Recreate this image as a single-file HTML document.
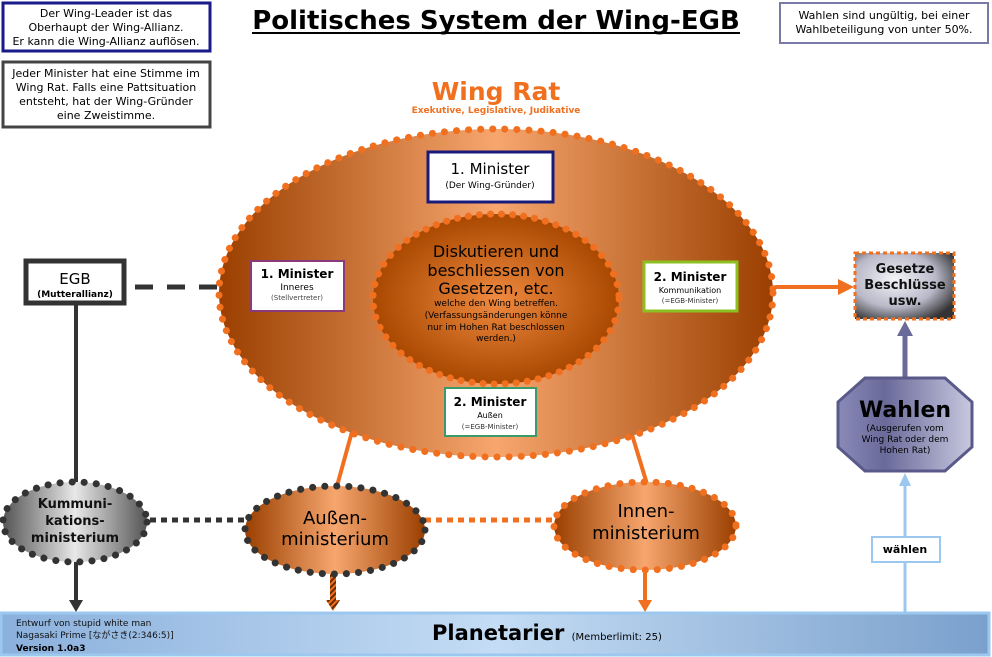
<!DOCTYPE html>
<html><head><meta charset="utf-8"><style>
html,body{margin:0;padding:0;background:#fff;}
svg{display:block;}
text{font-family:"DejaVu Sans","Liberation Sans",sans-serif;}
</style></head><body>
<svg width="992" height="657" viewBox="0 0 992 657" xmlns="http://www.w3.org/2000/svg">
<defs>
<linearGradient id="og" x1="0" x2="1" y1="0" y2="0">
<stop offset="0" stop-color="#9a3f00"/><stop offset="0.5" stop-color="#f7a66e"/><stop offset="1" stop-color="#9a3f00"/></linearGradient>
<radialGradient id="ig" cx="0.5" cy="0.5" r="0.5">
<stop offset="0" stop-color="#f08a40"/><stop offset="1" stop-color="#a94800"/></radialGradient>
<linearGradient id="gg" x1="0" x2="1"><stop offset="0" stop-color="#555"/><stop offset="0.5" stop-color="#e8e8e8"/><stop offset="1" stop-color="#555"/></linearGradient>
<linearGradient id="pg" x1="0" x2="1"><stop offset="0" stop-color="#8a8ab8"/><stop offset="0.35" stop-color="#6a6a9a"/><stop offset="1" stop-color="#c8c8e0"/></linearGradient>
<radialGradient id="sg" cx="0.4" cy="0.4" r="0.7"><stop offset="0" stop-color="#f4f4f8"/><stop offset="0.6" stop-color="#b8b8c8"/><stop offset="1" stop-color="#333"/></radialGradient>
<linearGradient id="bg" x1="0" x2="1"><stop offset="0" stop-color="#8ab0dc"/><stop offset="0.5" stop-color="#c4dcf4"/><stop offset="1" stop-color="#7aa0cc"/></linearGradient>
<pattern id="stripe" width="4" height="4" patternUnits="userSpaceOnUse" patternTransform="rotate(45)"><rect width="4" height="4" fill="#f07020"/><rect width="2" height="4" fill="#6a2a00"/></pattern>
</defs>

<rect x="3" y="3" width="207" height="48" fill="#fff" stroke="#1a1a8a" stroke-width="3"/>
<text font-size="11" text-anchor="middle" fill="#000"><tspan x="106" y="17">Der Wing-Leader ist das</tspan><tspan x="106" y="31">Oberhaupt der Wing-Allianz.</tspan><tspan x="106" y="45">Er kann die Wing-Allianz auflösen.</tspan></text>
<rect x="3" y="62" width="207" height="65" fill="#fff" stroke="#444" stroke-width="3"/>
<text font-size="11" text-anchor="middle"><tspan x="106" y="77">Jeder Minister hat eine Stimme im</tspan><tspan x="106" y="91">Wing Rat. Falls eine Pattsituation</tspan><tspan x="106" y="105">entsteht, hat der Wing-Gründer</tspan><tspan x="106" y="119">eine Zweistimme.</tspan></text>
<rect x="780" y="3" width="208" height="40" fill="#fff" stroke="#7a7aa8" stroke-width="2"/>
<text font-size="11" text-anchor="middle"><tspan x="884" y="19">Wahlen sind ungültig, bei einer</tspan><tspan x="884" y="33">Wahlbeteiligung von unter 50%.</tspan></text>

<text x="496" y="29" font-size="26" font-weight="bold" text-anchor="middle">Politisches System der Wing-EGB</text>
<line x1="252" y1="33" x2="740" y2="33" stroke="#000" stroke-width="2"/>

<text x="496" y="100" font-size="25" font-weight="bold" fill="#f07020" text-anchor="middle">Wing Rat</text>
<text x="496" y="113" font-size="9" font-weight="bold" fill="#f07020" text-anchor="middle">Exekutive, Legislative, Judikative</text>

<line x1="135" y1="287" x2="220" y2="287" stroke="#333" stroke-width="5" stroke-dasharray="18,14"/>
<line x1="76" y1="305" x2="76" y2="482" stroke="#333" stroke-width="4"/>
<line x1="76" y1="562" x2="76" y2="602" stroke="#333" stroke-width="4"/>
<polygon points="69,600 83,600 76,612" fill="#333"/>
<line x1="150" y1="520" x2="245" y2="520" stroke="#333" stroke-width="5" stroke-dasharray="6,5"/>
<line x1="425" y1="520" x2="555" y2="520" stroke="#f07020" stroke-width="5" stroke-dasharray="6,5"/>
<line x1="353" y1="428" x2="337" y2="486" stroke="#f07020" stroke-width="4"/>
<line x1="630" y1="428" x2="647" y2="484" stroke="#f07020" stroke-width="4"/>
<line x1="645" y1="570" x2="645" y2="602" stroke="#f07020" stroke-width="4"/>
<polygon points="638,600 652,600 645,612" fill="#f07020"/>
<rect x="330" y="574" width="6" height="28" fill="url(#stripe)"/>
<polygon points="326,600 340,600 333,611" fill="url(#stripe)"/>
<line x1="775" y1="287" x2="840" y2="287" stroke="#f07020" stroke-width="4"/>
<polygon points="838,279 854,287 838,295" fill="#f07020"/>
<line x1="905" y1="378" x2="905" y2="334" stroke="#6a6a9a" stroke-width="5"/>
<polygon points="897,336 913,336 905,321" fill="#6a6a9a"/>
<line x1="905" y1="612" x2="905" y2="484" stroke="#9cc8f0" stroke-width="3"/>
<polygon points="899,486 911,486 905,473" fill="#9cc8f0"/>

<ellipse cx="496" cy="293" rx="277" ry="164" fill="url(#og)" stroke="#f07020" stroke-width="7" stroke-dasharray="0.1,12" stroke-linecap="round"/>
<ellipse cx="496" cy="299" rx="123" ry="85" fill="url(#ig)" stroke="#f07020" stroke-width="7" stroke-dasharray="0.1,11" stroke-linecap="round"/>
<text font-size="16" text-anchor="middle" fill="#000"><tspan x="496" y="257">Diskutieren und</tspan><tspan x="496" y="276">beschliessen von</tspan><tspan x="496" y="294">Gesetzen, etc.</tspan></text>
<text font-size="9" text-anchor="middle"><tspan x="496" y="306">welche den Wing betreffen.</tspan><tspan x="496" y="318">(Verfassungsänderungen könne</tspan><tspan x="496" y="330">nur im Hohen Rat beschlossen</tspan><tspan x="496" y="341">werden.)</tspan></text>

<rect x="428" y="152" width="125" height="50" fill="#fff" stroke="#1a1a7a" stroke-width="3"/>
<text x="490" y="174" font-size="15" text-anchor="middle">1. Minister</text>
<text x="490" y="188" font-size="9" text-anchor="middle">(Der Wing-Gründer)</text>
<rect x="251" y="261" width="93" height="50" fill="#fff" stroke="#8a3a7a" stroke-width="2"/>
<text x="297" y="278" font-size="12" font-weight="bold" text-anchor="middle">1. Minister</text>
<text x="297" y="290" font-size="9" text-anchor="middle">Inneres</text>
<text x="297" y="300" font-size="7" text-anchor="middle" fill="#444">(Stellvertreter)</text>
<rect x="644" y="262" width="93" height="49" fill="#fff" stroke="#8cc020" stroke-width="3"/>
<text x="690" y="281" font-size="12" font-weight="bold" text-anchor="middle">2. Minister</text>
<text x="690" y="293" font-size="8" text-anchor="middle">Kommunikation</text>
<text x="690" y="303" font-size="7" text-anchor="middle" fill="#333">(=EGB-Minister)</text>
<rect x="445" y="388" width="91" height="48" fill="#fff" stroke="#3a9a6a" stroke-width="2"/>
<text x="490" y="406" font-size="12" font-weight="bold" text-anchor="middle">2. Minister</text>
<text x="490" y="418" font-size="8" text-anchor="middle">Außen</text>
<text x="490" y="429" font-size="7" text-anchor="middle" fill="#333">(=EGB-Minister)</text>

<rect x="26" y="261" width="98" height="42" fill="#fff" stroke="#333" stroke-width="5"/>
<text x="75" y="284" font-size="15" text-anchor="middle">EGB</text>
<text x="75" y="297" font-size="9" font-weight="bold" text-anchor="middle">(Mutterallianz)</text>

<ellipse cx="75" cy="522" rx="72" ry="40" fill="url(#gg)" stroke="#333" stroke-width="7" stroke-dasharray="0.1,12" stroke-linecap="round"/>
<text font-size="13" font-weight="bold" text-anchor="middle" fill="#111"><tspan x="75" y="508">Kummuni-</tspan><tspan x="75" y="525">kations-</tspan><tspan x="75" y="542">ministerium</tspan></text>
<ellipse cx="335" cy="530" rx="90" ry="44" fill="url(#og)" stroke="#333" stroke-width="7" stroke-dasharray="0.1,12" stroke-linecap="round"/>
<text font-size="18" text-anchor="middle"><tspan x="335" y="524">Außen-</tspan><tspan x="335" y="545">ministerium</tspan></text>
<ellipse cx="645" cy="526" rx="91" ry="44" fill="url(#og)" stroke="#f07020" stroke-width="7" stroke-dasharray="0.1,12" stroke-linecap="round"/>
<text font-size="18" text-anchor="middle"><tspan x="646" y="517">Innen-</tspan><tspan x="646" y="539">ministerium</tspan></text>

<rect x="855" y="253" width="99" height="66" fill="url(#sg)" stroke="#f07020" stroke-width="3" stroke-dasharray="4,3"/>
<text font-size="13" font-weight="bold" text-anchor="middle" fill="#111"><tspan x="905" y="273">Gesetze</tspan><tspan x="905" y="289">Beschlüsse</tspan><tspan x="905" y="305">usw.</tspan></text>

<polygon points="865,378 945,378 972,402 972,447 945,471 865,471 838,447 838,402" fill="url(#pg)" stroke="#5a5a8a" stroke-width="3"/>
<text x="905" y="417" font-size="22" font-weight="bold" text-anchor="middle">Wahlen</text>
<text font-size="9" text-anchor="middle"><tspan x="905" y="431">(Ausgerufen vom</tspan><tspan x="905" y="442">Wing Rat oder dem</tspan><tspan x="905" y="453">Hohen Rat)</tspan></text>

<rect x="872" y="537" width="68" height="25" fill="#fff" stroke="#9cc8f0" stroke-width="2"/>
<text x="905" y="553" font-size="11" font-weight="bold" text-anchor="middle">wählen</text>

<rect x="1" y="613" width="988" height="42" fill="url(#bg)" stroke="#9cc8f0" stroke-width="3"/>
<text x="16" y="626" font-size="9" fill="#111">Entwurf von stupid white man</text>
<text x="16" y="638" font-size="9" fill="#111" style="font-family:'DejaVu Sans','Noto Sans CJK JP',sans-serif">Nagasaki Prime [ながさき(2:346:5)]</text>
<text x="16" y="651" font-size="9" font-weight="bold">Version 1.0a3</text>
<text x="432" y="640" font-size="21" font-weight="bold">Planetarier <tspan font-size="10" font-weight="normal">(Memberlimit: 25)</tspan></text>
</svg>
</body></html>
